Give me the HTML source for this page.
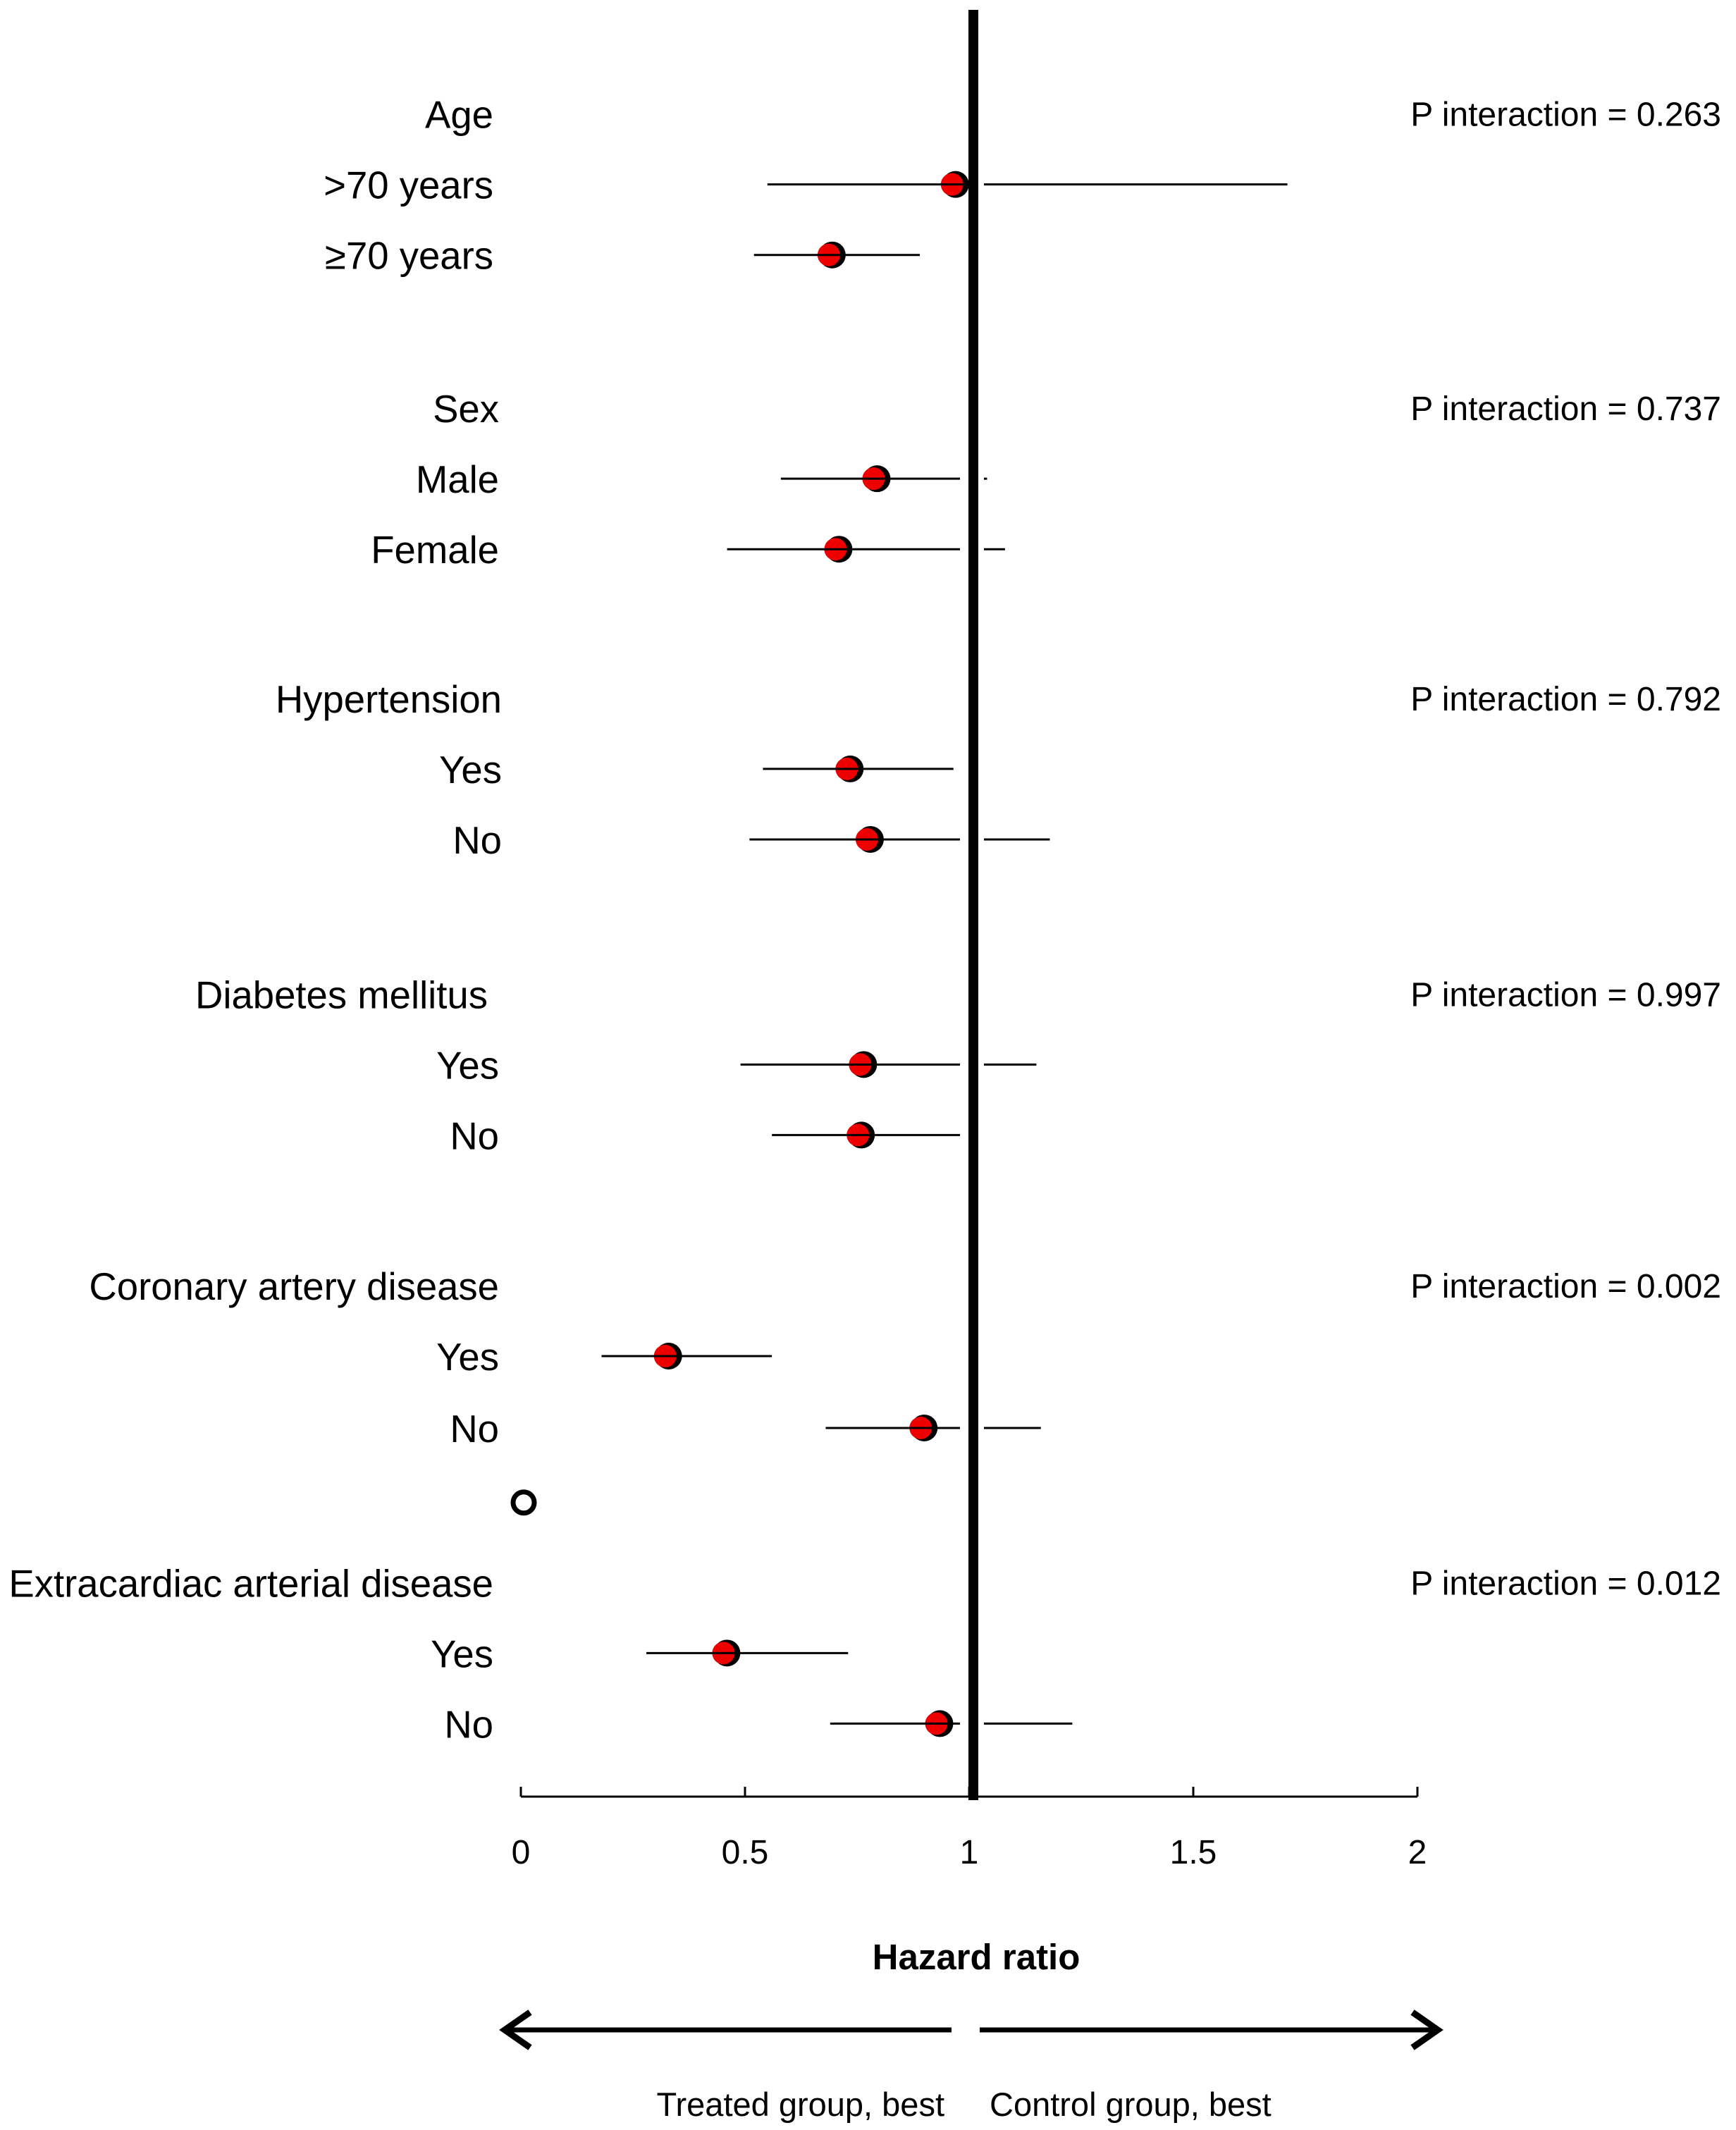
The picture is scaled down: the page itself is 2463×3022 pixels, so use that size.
<!DOCTYPE html>
<html><head><meta charset="utf-8"><style>
html,body{margin:0;padding:0;background:#fff}
svg{display:block}
text{font-family:"Liberation Sans",Arial,sans-serif;fill:#000}
</style></head><body>
<svg id="chart" width="2463" height="3022" viewBox="0 0 2463 3022" xmlns="http://www.w3.org/2000/svg">
<g id="whiskers"></g>
<rect x="1374" y="14" width="14" height="2540" fill="#000"/>
<g id="markers"></g>
<g id="labels"></g>
<g id="pvals"></g>
<g id="axis"></g>
<text x="1385" y="2794" font-size="51" font-weight="bold" text-anchor="middle">Hazard ratio</text>
<g stroke="#000" fill="none" stroke-width="7">
<line x1="716" y1="2880" x2="1350" y2="2880"/>
<polyline points="752,2855 716,2880 752,2905" stroke-width="9"/>
<line x1="1390" y1="2880" x2="2040" y2="2880"/>
<polyline points="2004,2855 2040,2880 2004,2905" stroke-width="9"/>
</g>
<text x="1340" y="3002" font-size="47" text-anchor="end">Treated group, best</text>
<text x="1404" y="3002" font-size="47">Control group, best</text>
</svg>
<script>
const labels = ["Age",">70 years","≥70 years","Sex","Male","Female","Hypertension","Yes","No","Diabetes mellitus","Yes","No","Coronary artery disease","Yes","No","","Extracardiac arterial disease","Yes","No"];
const rowY = [84,136,188,301,353,405,515,567,619,733,785,837,948,1000,1053,1108,1167,1219,1271];
const hr = [null,0.965,0.69,null,0.79,0.705,null,0.73,0.775,null,0.76,0.755,null,0.325,0.895,null,null,0.455,0.93];
const lower = [null,0.55,0.52,null,0.58,0.46,null,0.54,0.51,null,0.49,0.56,null,0.18,0.68,null,null,0.28,0.69];
const upper = [null,1.71,0.89,null,1.04,1.08,null,0.965,1.18,null,1.15,0.98,null,0.56,1.16,null,null,0.73,1.23];
const pLabels = ["P interaction = 0.263","P interaction = 0.737","P interaction = 0.792","P interaction = 0.997","P interaction = 0.002","P interaction = 0.012"];
const pRows = [0,3,6,9,12,16];
const ticks = [0,0.5,1,1.5,2];
const tickLabels = ["0","0.5","1","1.5","2"];

const NS="http://www.w3.org/2000/svg";
const S=1.924;
function xs(v){return 739+v*636;}
function ys(i){return rowY[i]*S;}
function mk(tag,attrs,parent){const e=document.createElementNS(NS,tag);for(const k in attrs)e.setAttribute(k,attrs[k]);parent.appendChild(e);return e;}
const W=document.getElementById('whiskers'),M=document.getElementById('markers'),L=document.getElementById('labels'),P=document.getElementById('pvals'),A=document.getElementById('axis');
const labelRight=[700,700,700,708,708,708,712,712,712,692,708,708,708,708,708,0,700,700,700];
labels.forEach((t,i)=>{
  if(!t)return;
  const e=mk('text',{x:labelRight[i],y:ys(i)+20,'font-size':54.5,'text-anchor':'end'},L);
  e.textContent=t;
  
  
});
hr.forEach((v,i)=>{
  if(v===null)return;
  const y=ys(i);
  const lo=xs(lower[i]),hi=xs(upper[i]);
  const l1=mk('line',{x1:lo,y1:y,x2:Math.min(hi,1362),y2:y,stroke:'#000','stroke-width':3},W);
  
  
  if(hi>1396){
    const l2=mk('line',{x1:1396,y1:y,x2:hi,y2:y,stroke:'#000','stroke-width':3},W);
    
    
  }
  const cx=xs(v);
  const b=mk('circle',{cx:cx+3,cy:y,r:19,fill:'#000'},M);
  
  
  const c=mk('circle',{cx:cx-2,cy:y,r:16,fill:'#e00'},M);
  
  
  const h=mk('line',{x1:cx-18,y1:y,x2:cx+18,y2:y,stroke:'#000','stroke-width':3},M);
  
  
});
const oc=mk('circle',{cx:743,cy:ys(15),r:15,fill:'#fff',stroke:'#000','stroke-width':7},M);


pLabels.forEach((t,i)=>{
  const e=mk('text',{x:2442,y:ys(pRows[i])+17,'font-size':48,'text-anchor':'end'},P);
  e.textContent=t;
  
  
});
const ay=2549;
const ax=mk('line',{x1:xs(0),y1:ay,x2:xs(2),y2:ay,stroke:'#000','stroke-width':3},A);


ticks.forEach((t,i)=>{
  const tk=mk('line',{x1:xs(t),y1:ay-14,x2:xs(t),y2:ay,stroke:'#000','stroke-width':3},A);
  
  
  const tl=mk('text',{x:xs(t),y:2644,'font-size':48,'text-anchor':'middle'},A);
  tl.textContent=tickLabels[i];
  
  
});
</script>
</body></html>
